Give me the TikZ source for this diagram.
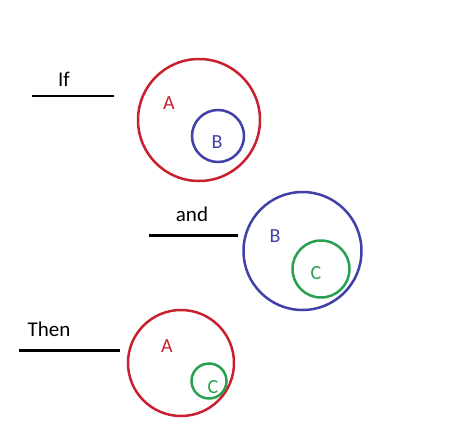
\documentclass[tikz,border=0pt]{standalone}
\usepackage{fontspec}
\setmainfont{Carlito}
\definecolor{cred}{RGB}{200,32,48}
\definecolor{cblue}{RGB}{64,64,168}
\definecolor{cgreen}{RGB}{40,160,80}
\begin{document}
\begin{tikzpicture}[x=1pt,y=-1pt,
  ring/.style={circle,draw,line width=2.5pt,inner sep=0pt},
  lbl/.style={anchor=base,inner sep=0pt,font=\fontsize{20}{24}\selectfont},
  word/.style={anchor=base,inner sep=0pt,font=\fontsize{21}{25}\selectfont,text=black},
  rule/.style={line width=2.7pt,black}]
\useasboundingbox[fill=white] (0,0) rectangle (450,442);
% If
\node[word] (tif) at (64,86) {If};
\coordinate (l1a) at (32,96); \coordinate (l1b) at (114,96);
\draw[rule] (l1a) -- (l1b);
\node[ring,cred,minimum size=122pt] (A1) at (199,120) {};
\node[ring,cblue,minimum size=52pt] (B1) at (218,136) {};
\node[lbl,text=cred] (tA1) at (169,109) {A};
\node[lbl,text=cblue] (tB1) at (217,148) {B};
% and
\node[word] (tand) at (192,221) {and};
\coordinate (l2a) at (149,235.5); \coordinate (l2b) at (238,235.5);
\draw[rule] (l2a) -- (l2b);
\node[ring,cblue,minimum size=118pt] (B2) at (302.5,251) {};
\node[ring,cgreen,minimum size=57pt] (C2) at (321,269) {};
\node[lbl,text=cblue] (tB2) at (275,242) {B};
\node[lbl,text=cgreen] (tC2) at (316,279) {C};
% Then
\node[word] (tthen) at (49,336) {Then};
\coordinate (l3a) at (19,350.5); \coordinate (l3b) at (120,350.5);
\draw[rule] (l3a) -- (l3b);
\node[ring,cred,minimum size=106pt] (A3) at (181,363) {};
\node[ring,cgreen,minimum size=35pt] (C3) at (209,381) {};
\node[lbl,text=cred] (tA3) at (167,352) {A};
\node[lbl,text=cgreen] (tC3) at (213,393) {C};
\end{tikzpicture}
\end{document}
